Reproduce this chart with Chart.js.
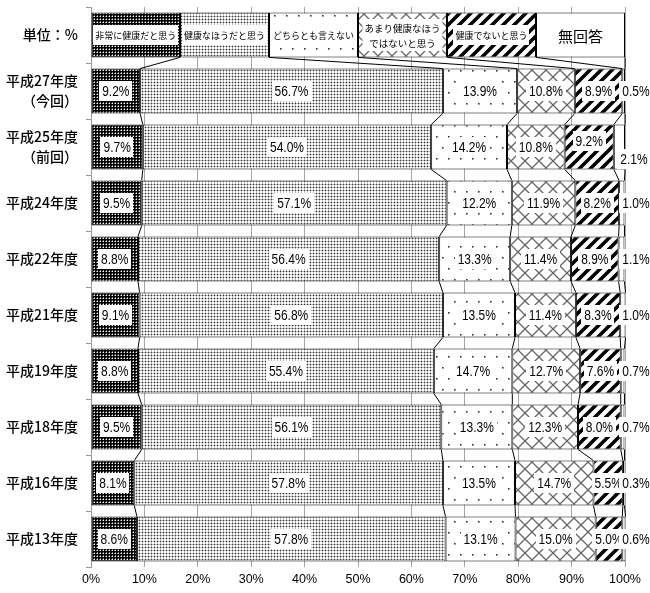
<!DOCTYPE html>
<html>
<head>
<meta charset="utf-8">
<script src="https://cdn.jsdelivr.net/npm/chart.js@4.4.1/dist/chart.umd.min.js"></script>
<style>
  html, body { margin: 0; background: #fff; }
  #wrap { width: 650px; height: 593px; }
</style>
</head>
<body>
<div id="wrap"><canvas id="kenko"></canvas></div>
<script>
// 健康状態の自己評価（年度別、単位：%）
const categories = ['単位：%', ['平成27年度', '（今回）'], ['平成25年度', '（前回）'], '平成24年度', '平成22年度',
  '平成21年度', '平成19年度', '平成18年度', '平成16年度', '平成13年度'];
const seriesNames = ['非常に健康だと思う', '健康なほうだと思う', 'どちらとも言えない',
  ['あまり健康なほう', 'ではないと思う'], '健康でないと思う', '無回答'];
const legendShare = 100 / 6; // 一番上の行は凡例として6等分

const veryHealthy   = [9.2, 9.7, 9.5, 8.8, 9.1, 8.8, 9.5, 8.1, 8.6];
const fairlyHealthy = [56.7, 54.0, 57.1, 56.4, 56.8, 55.4, 56.1, 57.8, 57.8];
const neither       = [13.9, 14.2, 12.2, 13.3, 13.5, 14.7, 13.3, 13.5, 13.1];
const notVery       = [10.8, 10.8, 11.9, 11.4, 11.4, 12.7, 12.3, 14.7, 15.0];
const notHealthy    = [8.9, 9.2, 8.2, 8.9, 8.3, 7.6, 8.0, 5.5, 5.0];
const noAnswer      = [0.5, 2.1, 1.0, 1.1, 1.0, 0.7, 0.7, 0.3, 0.6];
const xTicks = [0, 10, 20, 30, 40, 50, 60, 70, 80, 90, 100];

const canvas = document.getElementById('kenko');
const ctx = canvas.getContext('2d');

function makePattern(w, h, paint) {
  const tile = document.createElement('canvas');
  tile.width = w; tile.height = h;
  const g = tile.getContext('2d');
  g.fillStyle = '#fff';
  g.fillRect(0, 0, w, h);
  paint(g);
  return ctx.createPattern(tile, 'repeat');
}

const patDark = makePattern(3, 3, g => {
  g.fillStyle = '#000'; g.fillRect(0, 0, 3, 3);
  g.fillStyle = '#777'; g.fillRect(1, 0, 1, 1); g.fillRect(0, 1, 1, 1);
  g.fillStyle = '#fff'; g.fillRect(1, 1, 1, 1);
});
const patLight = makePattern(3, 3, g => {
  g.fillStyle = '#bbb';
  g.fillRect(0, 1, 3, 1); g.fillRect(1, 0, 1, 3);
  g.fillStyle = '#333'; g.fillRect(1, 1, 1, 1);
});
const patSparse = makePattern(24, 22, g => {
  g.fillStyle = '#333';
  [[4, 4], [16, 4], [10, 15], [22, 15]].forEach(p => g.fillRect(p[0], p[1], 1.6, 1.6));
});
const patLattice = makePattern(14, 14, g => {
  g.strokeStyle = '#666'; g.lineWidth = 1.3;
  g.beginPath();
  g.moveTo(0, 0); g.lineTo(14, 14);
  g.moveTo(14, 0); g.lineTo(0, 14);
  g.stroke();
});
const patStripe = makePattern(11, 11, g => {
  g.strokeStyle = '#000'; g.lineWidth = 3.6;
  g.beginPath();
  g.moveTo(-2, 13); g.lineTo(13, -2);
  g.moveTo(-2, 2); g.lineTo(2, -2);
  g.moveTo(9, 13); g.lineTo(13, 9);
  g.stroke();
});

const fills = [patDark, patLight, patSparse, patLattice, patStripe, '#fff'];
const allSeries = [veryHealthy, fairlyHealthy, neither, notVery, notHealthy, noAnswer];

const datasets = allSeries.map((vals, k) => ({
  label: Array.isArray(seriesNames[k]) ? seriesNames[k].join('') : seriesNames[k],
  data: [legendShare, ...vals],
  backgroundColor: fills[k],
  borderColor: '#000',
  borderWidth: 1,
  borderSkipped: false,
  barPercentage: 0.8,
  categoryPercentage: 1.0
}));

// 白い四角の上に文字（sx で横方向に縮める）
function labelBox(c, text, x, y, font, padX, h, sx = 1) {
  c.font = font;
  const w = c.measureText(text).width * sx;
  c.fillStyle = '#fff';
  c.fillRect(Math.round(x - w / 2 - padX), Math.round(y - h / 2), Math.round(w + padX * 2), h);
  c.fillStyle = '#000';
  c.save();
  c.translate(x, y + 1);
  c.scale(sx, 1);
  c.fillText(text, 0, 0);
  c.restore();
}

// 系列線（隣り合う棒の区切りを結ぶ線）
const seriesLines = {
  id: 'seriesLines',
  afterDatasetsDraw(chart) {
    const c = chart.ctx;
    c.save();
    c.strokeStyle = '#000';
    c.lineWidth = 1;
    chart.data.datasets.forEach((ds, k) => {
      const els = chart.getDatasetMeta(k).data;
      for (let j = 0; j < els.length - 1; j++) {
        const a = els[j], b = els[j + 1];
        c.beginPath();
        c.moveTo(a.x, a.y + a.height / 2);
        c.lineTo(b.x, b.y - b.height / 2);
        c.stroke();
      }
    });
    c.restore();
  }
};

const valueLabels = {
  id: 'valueLabels',
  afterDatasetsDraw(chart) {
    const c = chart.ctx;
    c.save();
    c.textAlign = 'center';
    c.textBaseline = 'middle';
    chart.data.datasets.forEach((ds, k) => {
      const els = chart.getDatasetMeta(k).data;
      els.forEach((el, j) => {
        const cx = (el.x + el.base) / 2;
        let cy = el.y;
        if (j === 0) {
          const name = seriesNames[k];
          if (Array.isArray(name)) {
            c.font = '9.5px "Noto Sans CJK JP"';
            const w = Math.max(...name.map(t => c.measureText(t).width));
            c.fillStyle = '#fff';
            c.fillRect(cx - w / 2 - 2, cy - 16, w + 4, 32);
            c.fillStyle = '#000';
            c.fillText(name[0], cx, cy - 7);
            c.fillText(name[1], cx, cy + 8);
          } else if (k === 5) {
            labelBox(c, name, cx, cy, '15px "Noto Sans CJK JP"', 2, 22);
          } else {
            labelBox(c, name, cx, cy, '9px "Noto Sans CJK JP"', 2, 20);
          }
          return;
        }
        const txt = ds.data[j].toFixed(1) + '%';
        let x = cx;
        if (k === 5) x = chart.chartArea.right + 11;
        if (k === 4 && j === 2) cy -= 6;
        if (k === 5 && j === 2) { cy += 12; x -= 2; }
        labelBox(c, txt, x, cy, '15px "Liberation Sans"', 3, 20, 0.8);
      });
    });
    c.restore();
  }
};

new Chart(canvas, {
  type: 'bar',
  data: { labels: categories, datasets: datasets },
  options: {
    indexAxis: 'y',
    responsive: true,
    maintainAspectRatio: false,
    animation: false,
    layout: { padding: { top: 7, right: 25, left: 0, bottom: 0 } },
    scales: {
      x: {
        stacked: true,
        min: 0,
        max: 100,
        afterBuildTicks: scale => { scale.ticks = xTicks.map(v => ({ value: v })); },
        afterFit: scale => { scale.height = 26; },
        ticks: {
          callback: v => v + '%',
          color: '#000',
          padding: 5,
          font: { family: '"Liberation Sans"', size: 12.5 }
        },
        grid: { color: '#a6a6a6', drawTicks: false },
        border: { display: false }
      },
      y: {
        stacked: true,
        afterFit: scale => {
          scale.width = 91;
          scale.paddingTop = 0;
          scale.paddingBottom = 0;
        },
        ticks: {
          color: '#000',
          padding: 8,
          font: { family: '"Noto Sans CJK JP"', size: 14, weight: '500', lineHeight: 1.45 }
        },
        grid: { drawOnChartArea: false, tickLength: 5, color: '#999' },
        border: { color: '#999' }
      }
    },
    plugins: {
      legend: { display: false },
      tooltip: { enabled: false }
    }
  },
  plugins: [seriesLines, valueLabels]
});
</script>
</body>
</html>
